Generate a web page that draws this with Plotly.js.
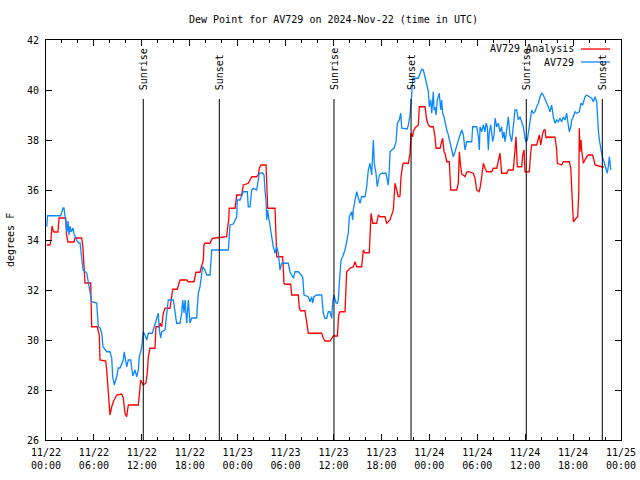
<!DOCTYPE html>
<html>
<head>
<meta charset="utf-8">
<script src="https://cdn.plot.ly/plotly-3.0.1.min.js"></script>
<style>html,body{margin:0;padding:0;background:#fff;}#chart{width:640px;height:480px;}</style>
</head>
<body>
<div id="chart"></div>
<script>
// hours since 2024-11-22 00:00 UTC
const analysisHours = [0.09,0.5,0.63,0.75,0.88,1.0,1.5,1.63,2.47,2.57,2.75,3.51,3.63,4.47,4.63,4.76,4.88,5.6,5.63,5.72,6.42,6.67,6.76,7.48,7.6,7.8,8.01,8.23,8.43,8.85,9.48,9.68,9.89,10.1,10.31,11.56,11.68,11.86,12.18,12.52,12.68,12.81,13.02,13.65,13.77,14.19,14.28,14.49,14.69,14.9,15.53,15.74,15.87,16.44,16.78,17.62,17.82,18.53,18.78,19.28,19.5,19.7,19.78,19.91,20.54,20.75,20.95,22.63,22.7,22.88,22.95,23.67,23.88,24.51,24.71,25.33,25.76,26.38,26.58,26.71,26.92,27.55,27.64,27.76,28.68,28.8,28.89,29.64,29.8,29.93,30.64,30.77,31.59,31.72,31.89,32.43,32.64,32.85,34.52,34.72,34.94,35.56,35.98,36.48,36.65,36.81,37.44,37.65,38.07,38.48,38.69,38.91,39.53,39.73,39.94,40.48,40.7,40.91,41.41,41.61,41.82,42.45,42.66,43.08,43.49,43.7,43.91,44.11,44.33,44.45,44.67,44.74,45.37,45.58,45.71,45.92,45.99,46.21,46.62,46.75,47.46,47.58,47.67,47.87,48.08,48.5,48.71,48.84,49.34,49.55,49.67,49.84,49.96,50.18,50.5,50.68,51.43,51.63,51.76,51.93,52.06,52.47,52.68,52.88,53.51,53.72,53.93,54.22,54.35,54.56,54.76,54.97,55.18,55.81,56.01,56.44,56.64,56.85,57.06,57.69,57.89,58.51,58.73,58.85,59.02,59.57,59.69,59.86,59.98,60.52,60.69,60.82,61.44,61.65,61.77,61.95,62.07,62.2,62.36,62.49,62.61,62.77,63.74,63.95,64.02,64.57,64.78,65.53,65.71,65.83,65.96,66.03,66.37,66.58,66.71,66.78,66.87,66.99,67.08,67.28,67.7,67.91,68.46,68.75,69.58,69.87];
const analysisDew = [33.8,33.8,34.04,34.56,34.4,34.32,34.32,34.88,34.88,34.2,33.92,33.92,34.08,34.08,33.68,32.8,32.28,32.28,31.8,30.53,30.53,30.2,29.2,29.16,28.8,27.93,27.0,27.33,27.53,27.8,27.84,27.68,27.07,26.93,27.4,27.4,27.73,28.4,28.2,28.28,28.67,29.31,29.67,29.67,30.53,30.53,30.67,30.53,31.07,31.27,31.27,31.87,32.03,32.03,32.4,32.4,32.33,32.33,32.71,32.71,33.0,33.2,33.8,33.87,33.87,34.03,34.07,34.13,34.4,34.8,35.27,35.27,35.8,35.8,36.2,36.27,36.53,36.53,36.6,36.87,37.0,37.0,36.27,35.27,35.27,33.6,33.33,33.33,32.27,32.23,32.23,31.8,31.8,31.27,31.17,31.17,30.8,30.27,30.27,30.07,29.96,29.96,30.16,30.16,31.0,31.13,31.13,32.73,32.87,32.93,33.13,32.93,32.93,33.6,33.49,33.49,35.07,34.67,34.67,35.0,34.93,34.93,34.67,34.8,35.2,36.27,36.0,35.73,35.76,36.53,37.0,37.07,37.07,37.47,38.27,38.13,38.33,38.48,38.6,39.33,39.33,39.07,38.8,38.6,38.53,38.53,38.13,37.67,37.67,37.93,38.07,37.53,37.47,37.13,37.13,36.0,36.0,36.27,37.53,36.93,36.64,36.53,36.72,36.73,36.67,36.47,36.0,35.93,36.08,36.53,37.07,36.87,36.73,36.73,36.87,36.87,37.16,37.47,36.67,36.67,36.8,36.8,37.6,38.13,36.93,36.93,37.4,37.6,36.73,36.73,37.47,37.8,37.8,38.07,38.2,37.8,38.07,38.27,38.4,38.4,38.07,38.12,38.11,37.6,37.07,37.0,37.13,37.13,36.87,36.13,35.33,34.73,34.87,34.93,35.87,38.47,37.53,38.0,37.6,37.07,37.33,37.4,37.4,37.0,36.93,36.92];

const stationHours = [0.09,0.19,1.84,2.0,2.13,2.25,2.38,2.5,2.63,2.75,2.88,3.01,3.13,3.38,3.51,3.76,3.88,4.13,4.26,4.51,4.63,5.1,5.51,5.72,6.35,6.55,6.76,6.97,7.14,7.6,8.01,8.23,8.35,8.55,8.85,9.05,9.27,9.68,9.8,10.1,10.31,10.61,10.86,11.14,11.36,11.56,11.68,11.98,12.18,12.4,12.61,12.81,13.31,13.65,13.86,14.06,14.19,14.36,14.49,14.9,15.03,15.31,15.94,16.15,16.36,16.78,16.99,17.12,17.28,17.41,17.62,17.82,18.03,18.24,18.87,18.95,19.07,19.28,19.41,19.62,19.91,20.12,20.54,20.75,22.83,23.04,23.45,23.88,23.95,24.29,24.71,25.21,25.33,25.55,25.76,25.96,26.38,26.71,27.13,27.3,27.42,27.55,27.64,27.76,27.84,28.05,28.26,28.46,28.68,28.89,29.09,29.3,29.51,29.72,30.34,30.55,30.97,31.18,31.59,32.14,32.31,32.85,33.06,33.27,33.4,33.56,33.9,34.52,34.72,34.94,35.15,35.35,35.56,35.78,35.9,36.06,36.31,36.48,36.6,36.73,36.94,37.15,37.44,37.65,37.85,37.98,38.28,38.4,38.48,38.69,38.91,39.11,39.32,39.53,39.94,40.16,40.36,40.57,40.78,40.99,41.11,41.32,41.48,41.74,42.04,42.57,42.86,42.99,43.08,43.29,43.58,43.83,43.99,44.24,44.42,44.54,45.24,45.37,45.58,45.79,45.92,46.62,46.83,47.04,47.25,47.46,47.67,47.87,48.0,48.17,48.3,48.5,48.59,48.71,48.84,49.0,49.25,49.42,49.55,49.67,49.84,49.96,50.18,50.38,50.59,50.8,51.0,51.21,51.43,51.63,51.84,52.06,52.26,52.47,52.68,53.31,53.43,53.93,54.14,54.26,54.35,54.56,54.76,54.97,55.1,55.26,55.39,55.51,55.69,55.94,56.1,56.23,56.44,56.64,56.85,57.06,57.19,57.35,57.48,57.69,57.89,58.1,58.31,58.51,58.73,58.94,59.14,59.35,59.57,59.77,59.98,60.11,60.27,60.48,60.69,60.82,61.02,61.23,61.44,61.65,61.86,62.07,62.27,62.49,62.7,62.9,63.11,63.32,63.52,63.74,63.95,64.15,64.36,64.57,64.78,64.99,65.2,65.4,65.53,65.71,65.83,66.03,66.24,66.45,66.78,66.99,67.2,67.49,67.7,68.03,68.33,68.53,68.75,68.96,69.03,69.16,69.29,69.46,69.66,69.87,70.12,70.28,70.41,70.54,70.63,70.72];
const stationDew = [34.53,34.97,34.97,35.2,35.28,35.28,34.93,34.6,34.32,34.76,34.2,34.56,34.32,34.48,34.24,34.08,33.96,33.88,33.88,33.2,32.8,32.68,32.0,31.53,31.48,30.53,30.48,30.28,29.73,29.53,29.53,29.28,28.53,28.2,28.53,28.88,28.88,29.2,29.53,28.93,29.2,29.2,28.56,28.8,28.53,28.8,29.33,29.68,30.33,30.2,30.0,30.27,30.27,30.67,30.93,31.07,30.4,30.08,30.33,30.4,30.8,31.6,31.6,31.08,30.67,30.67,31.08,31.6,31.08,31.6,30.67,31.6,30.68,30.88,30.88,31.33,31.87,32.13,32.53,32.93,32.8,32.6,32.6,33.6,33.6,34.6,34.64,34.93,35.6,35.6,35.93,35.93,35.33,35.33,36.0,36.07,36.0,36.67,36.69,36.6,36.0,35.6,34.8,35.2,35.0,34.53,34.07,33.73,33.47,33.73,33.48,32.8,33.07,33.07,33.07,32.73,32.47,32.73,32.73,32.53,31.8,31.73,31.53,31.73,31.47,31.73,31.8,31.8,31.08,30.87,30.87,31.13,31.13,30.87,31.53,31.8,31.48,31.47,31.6,32.27,33.2,33.33,33.6,33.93,34.27,34.93,35.13,34.8,35.2,35.6,35.93,35.68,35.47,35.73,35.73,36.13,36.8,37.07,36.6,38.0,37.07,36.67,36.13,36.6,36.67,36.67,36.2,36.8,37.53,37.6,37.67,37.93,38.67,38.8,39.07,38.47,38.44,38.6,39.0,39.8,40.47,40.47,40.67,40.83,40.8,40.5,40.24,39.96,39.33,39.6,39.07,39.93,39.2,39.32,39.0,39.6,39.87,39.2,39.6,39.07,38.93,38.67,38.4,38.2,37.87,37.53,37.33,37.53,37.8,38.0,38.2,38.4,38.2,37.6,37.93,37.93,38.53,38.53,38.13,37.6,38.53,38.33,38.6,38.33,38.67,38.53,37.6,38.33,38.6,37.93,38.2,38.87,38.53,38.67,38.33,38.53,38.07,38.33,37.93,38.4,38.93,38.2,37.93,38.53,39.2,39.2,38.8,38.93,38.72,38.53,38.07,37.93,38.0,38.4,38.93,39.2,39.07,39.13,39.33,39.47,39.73,39.87,39.8,39.6,39.47,39.33,39.13,39.4,38.93,38.67,38.8,38.73,38.87,38.73,38.93,38.8,39.07,38.6,38.33,38.53,38.8,38.93,39.13,39.07,39.13,39.47,39.4,39.73,39.8,39.73,39.67,39.53,39.73,39.53,39.07,38.4,38.0,37.6,37.33,37.13,36.8,36.67,36.93,37.33,37.08,36.8];

const sunriseHours = [12.18, 36.06, 60.14];
const sunsetHours = [21.70, 45.71, 69.66];

const seriesNames = ['AV729 Analysis', 'AV729'];
const seriesColors = ['#ff0000', '#0a88ff'];

const base = Date.UTC(2024, 10, 22, 0, 0, 0);
function toDate(h) {
  const d = new Date(base + h * 3600000);
  return d.toISOString().slice(0, 19).replace('T', ' ');
}

const traces = [
  {x: analysisHours.map(toDate), y: analysisDew, name: seriesNames[0], type: 'scatter', mode: 'lines',
   line: {color: seriesColors[0], width: 1.3}, showlegend: false},
  {x: stationHours.map(toDate), y: stationDew, name: seriesNames[1], type: 'scatter', mode: 'lines',
   line: {color: seriesColors[1], width: 1.3}, showlegend: false}
];

const FONT = 'DejaVu Sans Mono, monospace';
const lineTop = 0.8525;
const shapes = [];
const annotations = [];
sunriseHours.forEach(h => {
  shapes.push({type: 'line', xref: 'x', yref: 'paper', x0: toDate(h), x1: toDate(h), y0: 0, y1: lineTop, line: {color: '#000', width: 1}});
  annotations.push({xref: 'x', yref: 'paper', x: toDate(h), y: 0.87, text: 'Sunrise', textangle: -90, showarrow: false, xanchor: 'center', yanchor: 'bottom', font: {family: FONT, size: 10, color: '#000'}});
});
sunsetHours.forEach(h => {
  shapes.push({type: 'line', xref: 'x', yref: 'paper', x0: toDate(h), x1: toDate(h), y0: 0, y1: lineTop, line: {color: '#000', width: 1}});
  annotations.push({xref: 'x', yref: 'paper', x: toDate(h), y: 0.87, text: 'Sunset', textangle: -90, showarrow: false, xanchor: 'center', yanchor: 'bottom', font: {family: FONT, size: 10, color: '#000'}});
});
// key (gnuplot style: text then line sample)
const keyY = [0.9775, 0.945];
seriesNames.forEach((n, i) => {
  annotations.push({xref: 'paper', yref: 'paper', x: 0.9217, y: keyY[i], text: n, showarrow: false, xanchor: 'right', yanchor: 'middle', font: {family: FONT, size: 10, color: '#000'}});
  shapes.push({type: 'line', xref: 'paper', yref: 'paper', x0: 0.9304, x1: 0.9809, y0: keyY[i], y1: keyY[i], line: {color: seriesColors[i], width: 1.3}});
});
annotations.push({xref: 'paper', yref: 'paper', x: -0.0626, y: 0.5, text: 'degrees F', textangle: -90, showarrow: false, xanchor: 'center', yanchor: 'middle', font: {family: FONT, size: 10, color: '#000'}});

const layout = {
  width: 640, height: 480,
  margin: {l: 46, r: 19, t: 40, b: 40, pad: 0},
  paper_bgcolor: '#fff', plot_bgcolor: '#fff',
  font: {family: FONT, size: 10, color: '#000'},
  title: {text: 'Dew Point for AV729 on 2024-Nov-22 (time in UTC)', x: 0.5, xref: 'paper', y: 1 - 19/480, yref: 'container', yanchor: 'middle', font: {family: FONT, size: 10, color: '#000'}},
  xaxis: {
    type: 'date', range: ['2024-11-22 00:00:00', '2024-11-25 00:00:00'],
    dtick: 6 * 3600000, tick0: '2024-11-22 00:00:00', tickformat: '%m/%d<br>%H:%M',
    ticks: 'inside', ticklen: 6, tickcolor: '#000', tickwidth: 1,
    minor: {dtick: 2 * 3600000, ticks: 'inside', ticklen: 3, tickcolor: '#000', showgrid: false},
    showline: true, linecolor: '#000', linewidth: 1, mirror: 'ticks', showgrid: false, zeroline: false,
    tickfont: {family: FONT, size: 10, color: '#000'}, ticklabelstandoff: 3
  },
  yaxis: {
    range: [26, 42], dtick: 2, tick0: 26,
    ticks: 'inside', ticklen: 6, tickcolor: '#000', tickwidth: 1,
    showline: true, linecolor: '#000', linewidth: 1, mirror: 'ticks', showgrid: false, zeroline: false,
    tickfont: {family: FONT, size: 10, color: '#000'}, ticklabelstandoff: 4
  },
  shapes: shapes,
  annotations: annotations,
  showlegend: false
};

Plotly.newPlot('chart', traces, layout, {displayModeBar: false, staticPlot: true});
</script>
</body>
</html>
